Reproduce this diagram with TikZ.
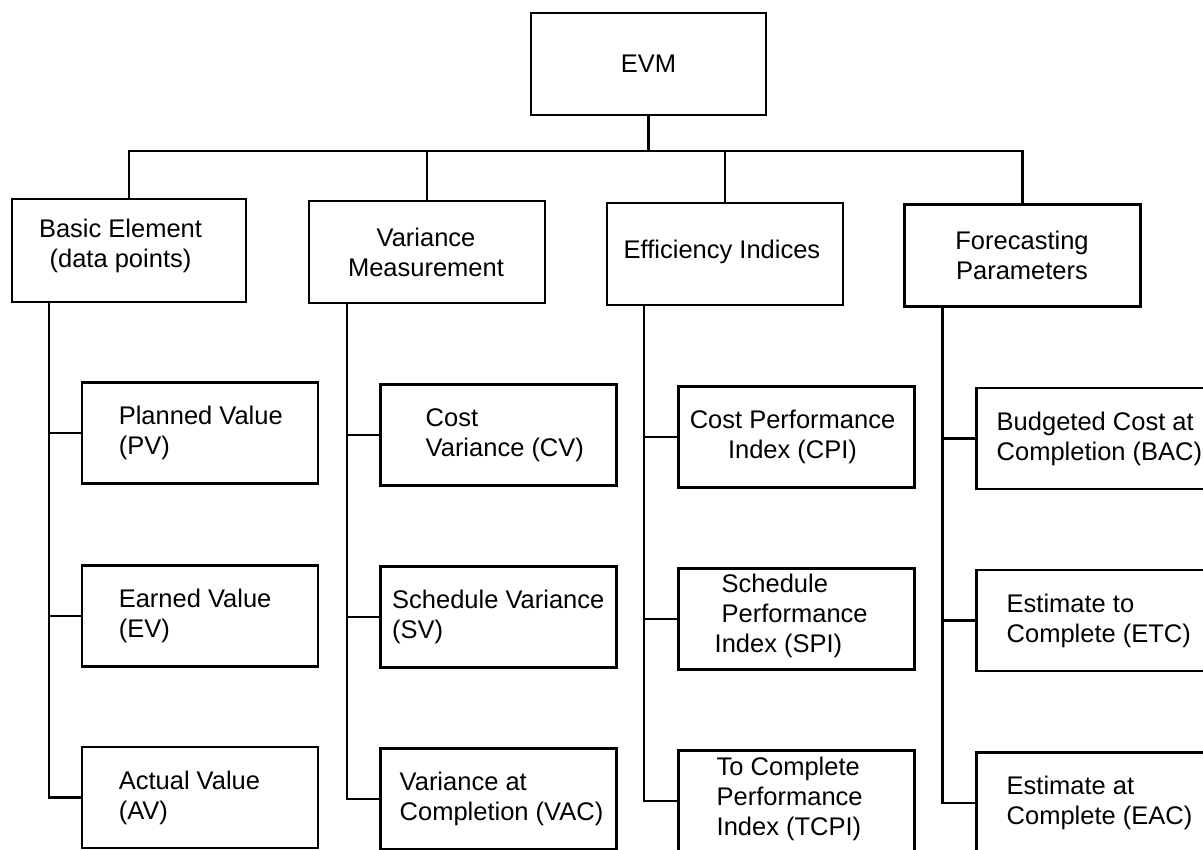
\documentclass[tikz,border=0pt]{standalone}
\usepackage{fontspec}
\setmainfont{Liberation Sans}
\tikzset{
  box/.style={draw, line width=2.5pt, minimum width=236pt, minimum height=101pt, inner sep=0pt, outer sep=0pt},
  txt/.style={inner sep=0pt, font=\fontsize{25.5}{30}\selectfont},
  conn/.style={line width=2.5pt},
}
\begin{document}
\begin{tikzpicture}[x=1pt, y=-1pt]
\useasboundingbox (0,0) rectangle (1203,850);
\clip (0,0) rectangle (1203,850);
\fill[white] (0,0) rectangle (1203,850);

% root
\node[box, minimum width=235pt, minimum height=102pt] (evm) at (648.5,64) {};
\node[txt] (evmt) at (evm.center) {EVM};

% level 2
\node[box, minimum width=234pt, minimum height=103pt] (ba) at (129,250.5) {};
\node[box, minimum height=102pt] (vm) at (427,252) {};
\node[box, minimum height=102pt] (ei) at (725,254) {};
\node[box, minimum height=102pt] (fp) at (1022.5,255.5) {};
\node[txt, align=center] (bat) at ([xshift=-8.5pt, yshift=5pt]ba.center) {Basic Element\\(data points)};
\node[txt, align=center] (vmt) at ([xshift=-1pt]vm.center) {Variance\\Measurement};
\node[txt, align=center] (eit) at ([xshift=-3pt, yshift=2pt]ei.center) {Efficiency Indices};
\node[txt, align=center] (fpt) at ([xshift=-0.5pt]fp.center) {Forecasting\\Parameters};

% level 3 boxes
\node[box] (pv) at (200,433) {};
\node[box] (ev) at (200,616) {};
\node[box] (av) at (200,797.5) {};
\node[box] (cv) at (498.5,435) {};
\node[box] (sv) at (498.5,617) {};
\node[box] (vac) at (498.5,799) {};
\node[box] (cpi) at (796.5,437) {};
\node[box] (spi) at (796.5,619) {};
\node[box] (tcpi) at (796.5,801) {};
\node[box] (bac) at (1094.5,438.5) {};
\node[box] (etc) at (1094.5,620.5) {};
\node[box] (eac) at (1094.5,803) {};

% level 3 texts
\node[txt, align=left, anchor=west] (pvt) at ([xshift=36.6pt]pv.west) {Planned Value\\(PV)};
\node[txt, align=left, anchor=west] (evt) at ([xshift=36.6pt]ev.west) {Earned Value\\(EV)};
\node[txt, align=left, anchor=west] (avt) at ([xshift=36.6pt]av.west) {Actual Value\\(AV)};
\node[txt, align=left, anchor=west] (cvt) at ([xshift=45pt]cv.west) {Cost\\Variance (CV)};
\node[txt, align=left, anchor=west] (svt) at ([xshift=11.5pt]sv.west) {Schedule Variance\\(SV)};
\node[txt, align=left, anchor=west] (vact) at ([xshift=19pt]vac.west) {Variance at\\Completion (VAC)};
\node[txt, align=center] (cpit) at ([xshift=-4pt]cpi.center) {Cost Performance\\Index (CPI)};
\node[txt, align=left, anchor=west] (spit) at ([xshift=43pt, yshift=3pt]spi.west) {Schedule\\Performance\\\hspace*{-7pt}Index (SPI)};
\node[txt, align=left, anchor=west] (tcpit) at ([xshift=38pt, yshift=2pt]tcpi.west) {To Complete\\Performance\\Index (TCPI)};
\node[txt, align=left, anchor=west] (bact) at ([xshift=20pt]bac.west) {Budgeted Cost at\\Completion (BAC)};
\node[txt, align=left, anchor=west] (etct) at ([xshift=30pt]etc.west) {Estimate to\\Complete (ETC)};
\node[txt, align=left, anchor=west] (eact) at ([xshift=30pt]eac.west) {Estimate at\\Complete (EAC)};

% top connectors
\draw[conn] (evm.south) -- (evm.south |- 0,151);
\draw[conn] (ba.north) -- (ba.north |- 0,151) -- (fp.north |- 0,151) -- (fp.north);
\draw[conn] (vm.north) -- (vm.north |- 0,151);
\draw[conn] (ei.north) -- (ei.north |- 0,151);

% child stems
\coordinate (bs) at ([xshift=37pt]ba.south west);
\coordinate (vs) at ([xshift=38pt]vm.south west);
\coordinate (es) at ([xshift=37pt]ei.south west);
\coordinate (fs) at ([xshift=38pt]fp.south west);

\draw[conn] (bs) |- (av.west);
\draw[conn] (bs |- pv.west) -- (pv.west);
\draw[conn] (bs |- ev.west) -- (ev.west);

\draw[conn] (vs) |- (vac.west);
\draw[conn] (vs |- cv.west) -- (cv.west);
\draw[conn] (vs |- sv.west) -- (sv.west);

\draw[conn] (es) |- (tcpi.west);
\draw[conn] (es |- cpi.west) -- (cpi.west);
\draw[conn] (es |- spi.west) -- (spi.west);

\draw[conn] (fs) |- (eac.west);
\draw[conn] (fs |- bac.west) -- (bac.west);
\draw[conn] (fs |- etc.west) -- (etc.west);
\end{tikzpicture}
\end{document}
